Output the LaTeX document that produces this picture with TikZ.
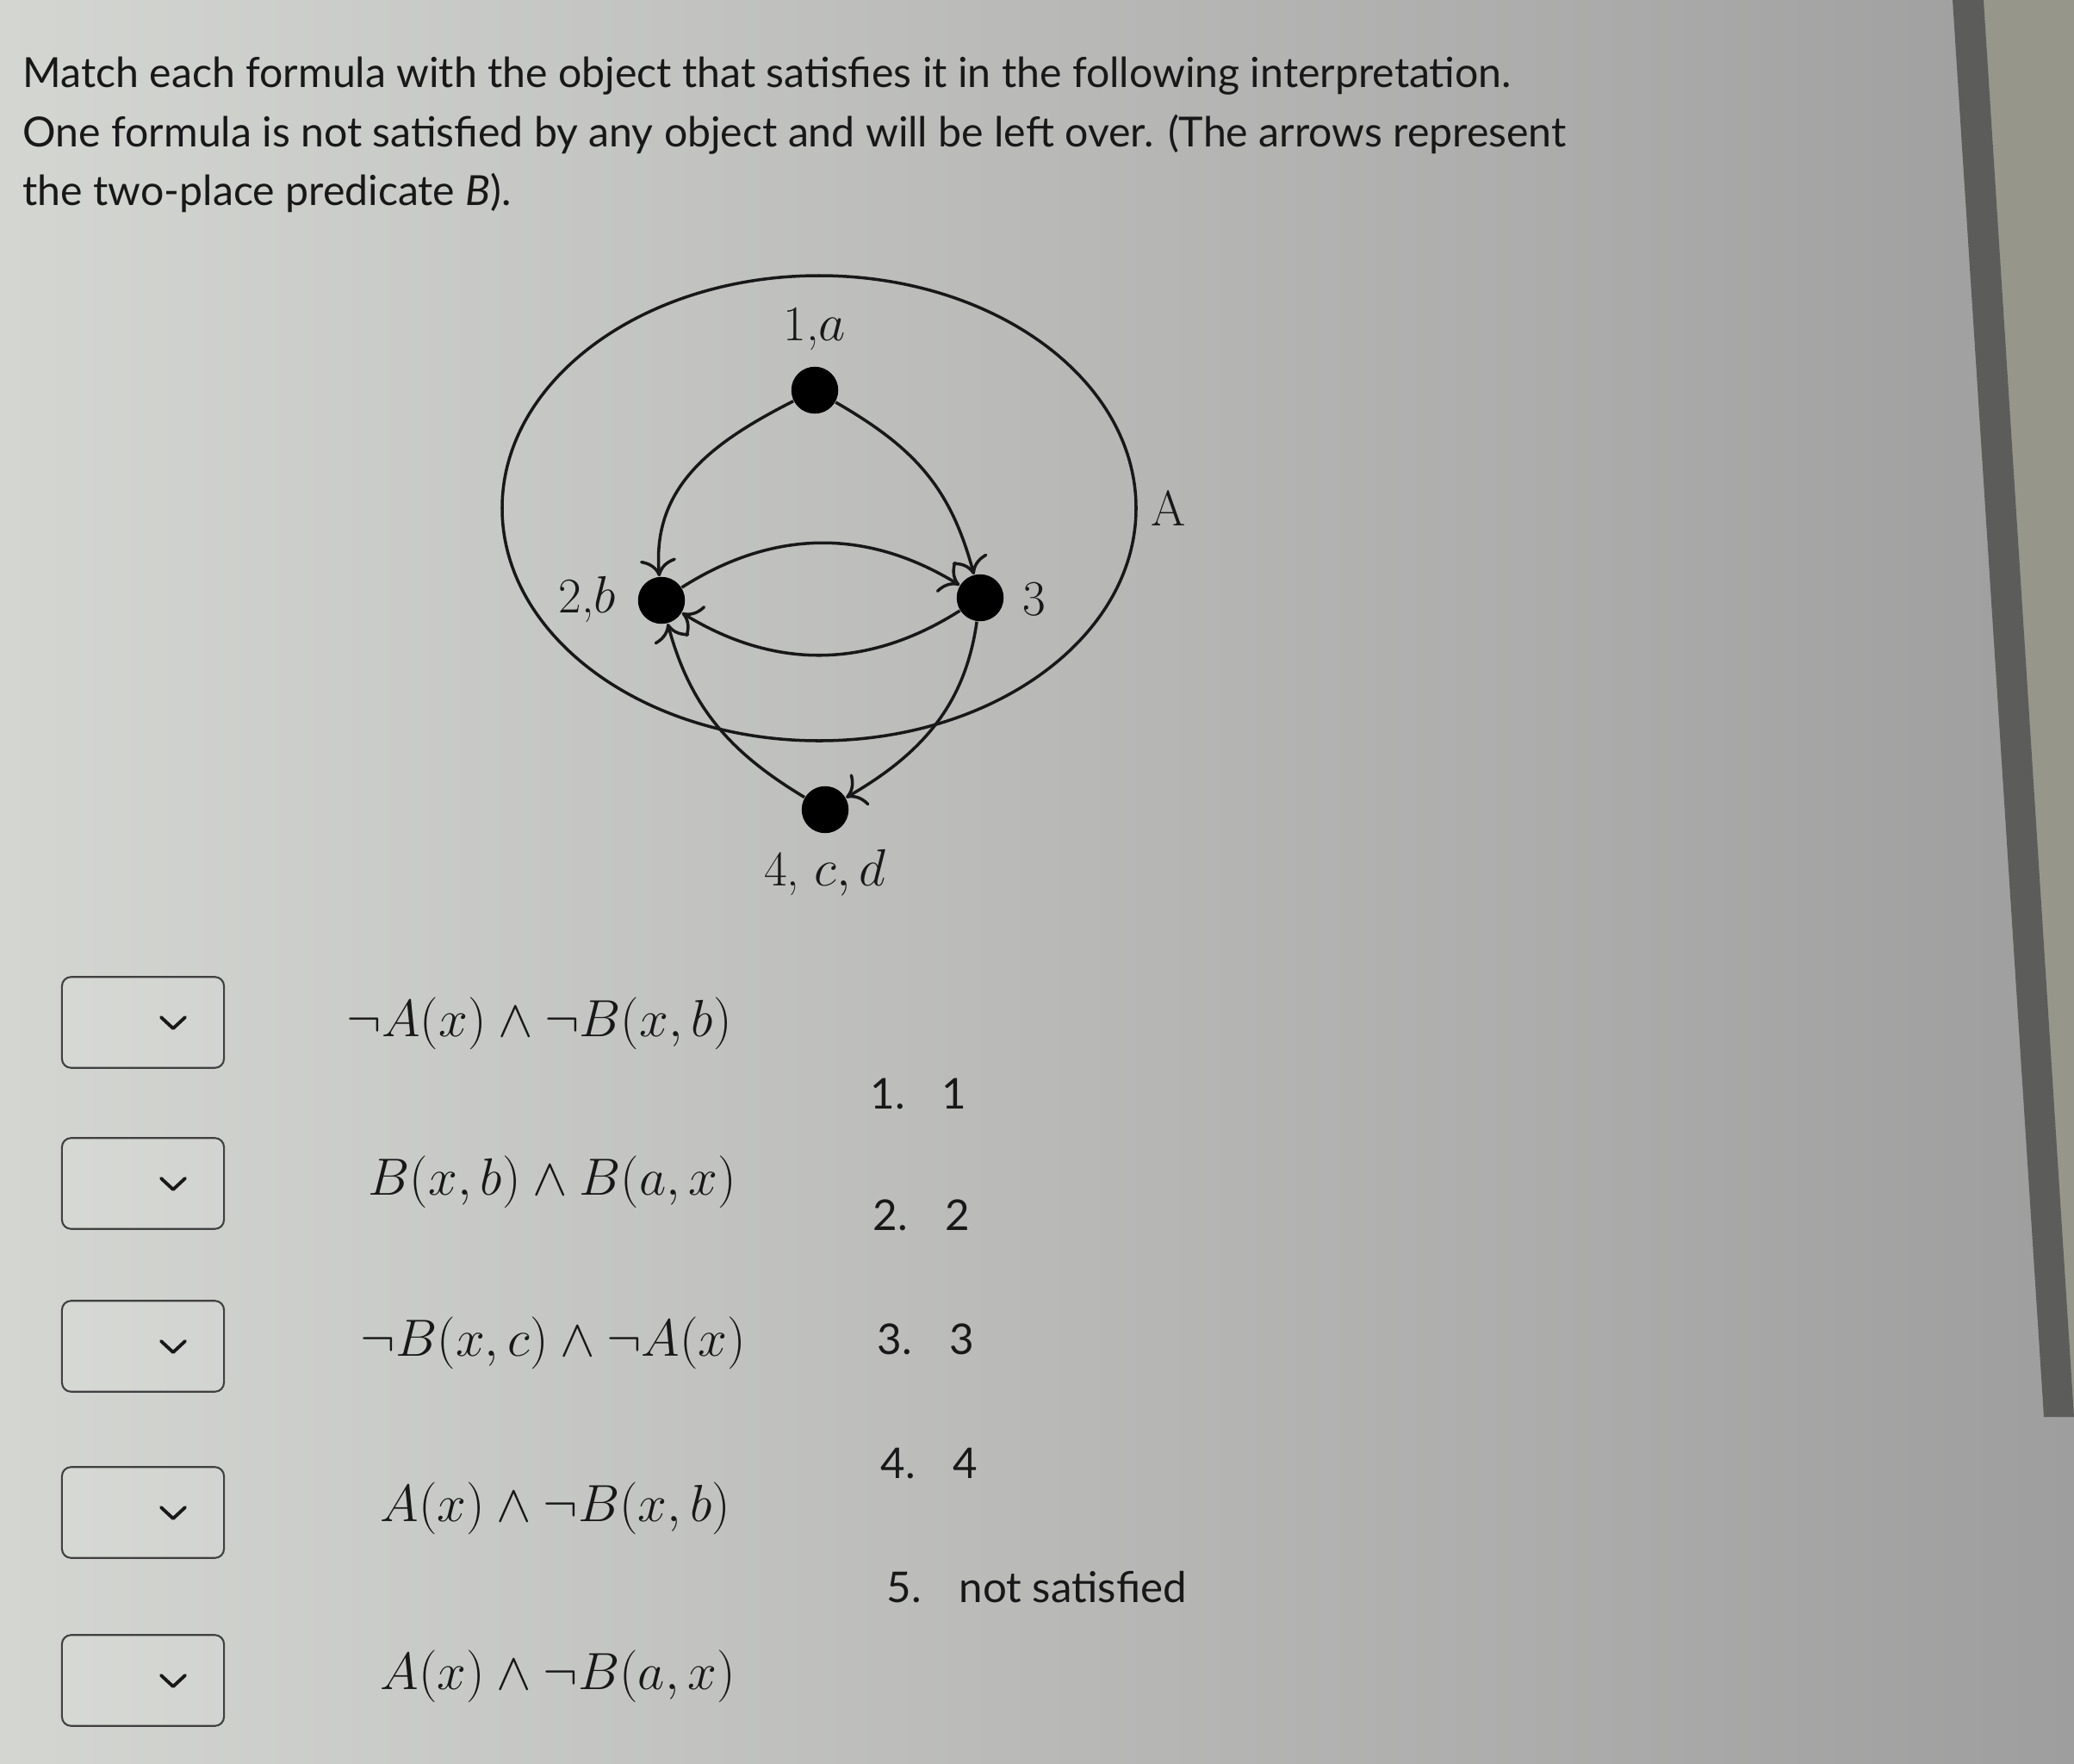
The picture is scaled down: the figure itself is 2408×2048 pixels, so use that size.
\documentclass[tikz,border=0pt]{standalone}
\usepackage{fontspec}
\newfontfamily\lato{Lato}
\usetikzlibrary{arrows.meta,shapes.geometric}
\definecolor{bgL}{RGB}{212,214,210}
\definecolor{bgM}{RGB}{190,191,189}
\definecolor{bgR}{RGB}{158,158,158}
\definecolor{barC}{RGB}{92,92,90}
\definecolor{sideC}{RGB}{150,150,138}
\definecolor{ink}{RGB}{24,24,24}
\begin{document}
\begin{tikzpicture}[x=0.01cm,y=0.01cm,
  dot/.style={circle,fill=black,minimum size=15.5pt,inner sep=0pt},
  edge/.style={line width=1pt,draw=ink,-{Computer Modern Rightarrow[scale=1.5]}},
  lbl/.style={font=\fontsize{16.5}{19}\selectfont,text=ink,inner sep=0pt},
  formula/.style={font=\fontsize{16.9}{20}\selectfont,anchor=west,text=ink,inner sep=0pt},
  ddbox/.style={draw=black!75,line width=0.6pt,rounded corners=3pt,minimum width=53.5pt,minimum height=30pt,fill=white,fill opacity=0.1,text opacity=1},
  chev/.style={draw=ink,line width=1.1pt,line cap=round,line join=round},
  hdr/.style={font=\lato\fontsize{13.7}{17}\selectfont,anchor=base west,text=ink,inner sep=0pt},
  item/.style={font=\lato\fontsize{14}{17}\selectfont,anchor=base west,text=ink,inner sep=0pt}]
\useasboundingbox (0,0) rectangle (2408,-2048);
\shade[left color=bgL,middle color=bgM,right color=bgR] (0,0) rectangle (2408,-2048);
\fill[sideC] (2303,0) -- (2408,0) -- (2408,-1645) -- cycle;
\fill[barC] (2267,0) -- (2303,0) -- (2408,-1645) -- (2373,-1645) -- cycle;

% header
\node[hdr] (h1) at (26,-101) {Match each formula with the object that satisfies it in the following interpretation.};
\node[hdr] (h2) at (26,-170) {One formula is not satisfied by any object and will be left over. (The arrows represent};
\node[hdr] (h3) at (26,-238) {the two-place predicate \textit{B}).};

% graph
\draw[line width=1pt,draw=ink] (951,-590) ellipse [x radius=368, y radius=270];
\node[dot] (n1) at (946,-453) {};
\node[dot] (n2) at (768,-697) {};
\node[dot] (n3) at (1138,-694) {};
\node[dot] (n4) at (958,-940) {};
\node[lbl] (l1) at (946,-382) {1,$a$};
\node[lbl] (l2) at (682,-696) {2,$b$};
\node[lbl] (l3) at (1201,-696) {3};
\node[lbl] (lA) at (1357,-590) {A};
\node[lbl] (l4) at (958,-1013) {4, $c,d$};
\draw[edge] (n1) to[out=207,in=95,looseness=1.05] (n2);
\draw[edge] (n1) to[out=-30,in=105,looseness=1.05] (n3);
\draw[edge] (n2) to[bend left=32] (n3);
\draw[edge] (n3) to[bend left=32] (n2);
\draw[edge] (n4) to[out=149,in=-75] (n2);
\draw[edge] (n3) to[out=-98,in=30] (n4);

% dropdowns and formulas
\foreach \i/\y in {1/1187,2/1374,3/1563,4/1756,5/1951}{
  \node[ddbox] (b\i) at (166,-\y) {};
  \draw[chev] ([shift={(21,6)}]b\i.center) -- ++(14,-13) -- ++(14,13);
}
\node[formula] (f1) at (402,-1188) {$\neg A(x)\wedge\neg B(x,b)$};
\node[formula] (f2) at (427,-1372) {$B(x,b)\wedge B(a,x)$};
\node[formula] (f3) at (418,-1559) {$\neg B(x,c)\wedge\neg A(x)$};
\node[formula] (f4) at (441,-1751) {$A(x)\wedge\neg B(x,b)$};
\node[formula] (f5) at (441,-1946) {$A(x)\wedge\neg B(a,x)$};

% list
\node[item] (i1) at (1010,-1287) {1.};
\node[item] (v1) at (1093,-1287) {1};
\node[item] (i2) at (1013,-1428) {2.};
\node[item] (v2) at (1097,-1428) {2};
\node[item] (i3) at (1018,-1572) {3.};
\node[item] (v3) at (1102,-1572) {3};
\node[item] (i4) at (1022,-1716) {4.};
\node[item] (v4) at (1106,-1716) {4};
\node[item] (i5) at (1029,-1860) {5.};
\node[item] (v5) at (1113,-1860) {not satisfied};
\end{tikzpicture}
\end{document}
